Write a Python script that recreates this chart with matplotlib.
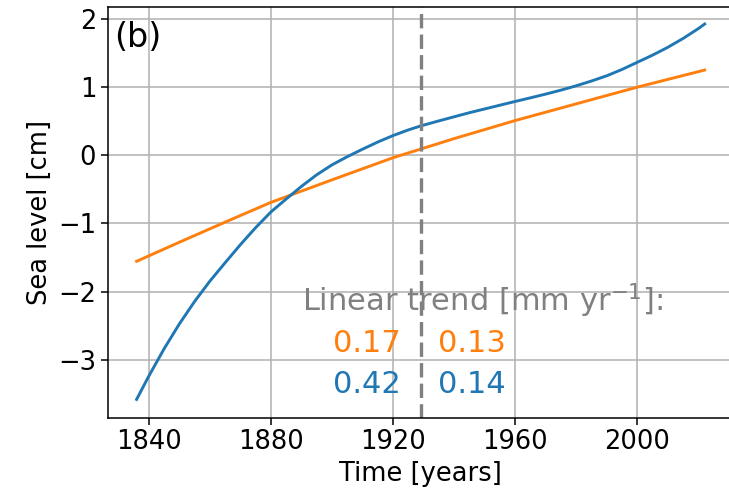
import matplotlib
matplotlib.use('Agg')
import matplotlib.pyplot as plt

# Sea level curves
years_blue = [1836, 1840, 1845, 1850, 1855, 1860, 1865, 1870, 1875, 1880,
              1885, 1890, 1895, 1900, 1905, 1910, 1915, 1920, 1925, 1929,
              1935, 1940, 1945, 1950, 1955, 1960, 1965, 1970, 1975, 1980,
              1985, 1990, 1995, 2000, 2005, 2010, 2015, 2020, 2022]
level_blue = [-3.58, -3.238, -2.838, -2.473, -2.143, -1.845, -1.575, -1.31, -1.06, -0.83,
              -0.64, -0.455, -0.285, -0.14, -0.02, 0.09, 0.195, 0.29, 0.3725, 0.43,
              0.505, 0.565, 0.625, 0.68, 0.735, 0.79, 0.843, 0.898, 0.956, 1.02,
              1.09, 1.167, 1.26, 1.365, 1.47, 1.585, 1.715, 1.86, 1.925]

years_orange = [1836, 1850, 1865, 1880, 1900, 1920, 1940, 1960, 1980, 2000, 2022]
level_orange = [-1.555, -1.275, -0.98, -0.69, -0.36, -0.035, 0.245, 0.51, 0.755, 1.0, 1.25]

split_year = 1929
trend_orange = ['0.17', '0.13']
trend_blue = ['0.42', '0.14']

fig = plt.figure(figsize=(7.29, 4.98), dpi=100)
ax = fig.add_axes([0.148, 0.161, 0.858, 0.825])

ax.plot(years_orange, level_orange, color='#ff7f0e', lw=2.1)
ax.plot(years_blue, level_blue, color='#1f77b4', lw=2.1)
ax.axvline(split_year, color='gray', ls=(0, (4.3, 1.86)), lw=2.4)

ax.set_xlim(1826.6, 2031.4)
ax.set_ylim(-3.85, 2.175)
ax.set_xticks([1840, 1880, 1920, 1960, 2000])
ax.set_yticks([-3, -2, -1, 0, 1, 2])
ax.grid(True, color='#b0b0b0', lw=1.1)
ax.set_axisbelow(True)

for s in ax.spines.values():
    s.set_linewidth(1.1)
ax.tick_params(labelsize=18.5, length=4.9, width=1.1)
ax.set_xlabel('Time [years]', fontsize=18.5)
ax.set_ylabel('Sea level [cm]', fontsize=18.5)

ax.text(0.01, 0.965, '(b)', transform=ax.transAxes, fontsize=24,
        ha='left', va='top')

ax.text(1890.2, -2.29, r'Linear trend [mm yr$^{-1}$]:', color='gray',
        fontsize=22, ha='left', va='baseline')
ax.text(split_year - 6.5, -2.89, trend_orange[0], color='#ff7f0e',
        fontsize=22, ha='right', va='baseline')
ax.text(split_year + 5.6, -2.89, trend_orange[1], color='#ff7f0e',
        fontsize=22, ha='left', va='baseline')
ax.text(split_year - 6.5, -3.48, trend_blue[0], color='#1f77b4',
        fontsize=22, ha='right', va='baseline')
ax.text(split_year + 5.6, -3.48, trend_blue[1], color='#1f77b4',
        fontsize=22, ha='left', va='baseline')

fig.savefig('out.png', dpi=100)
